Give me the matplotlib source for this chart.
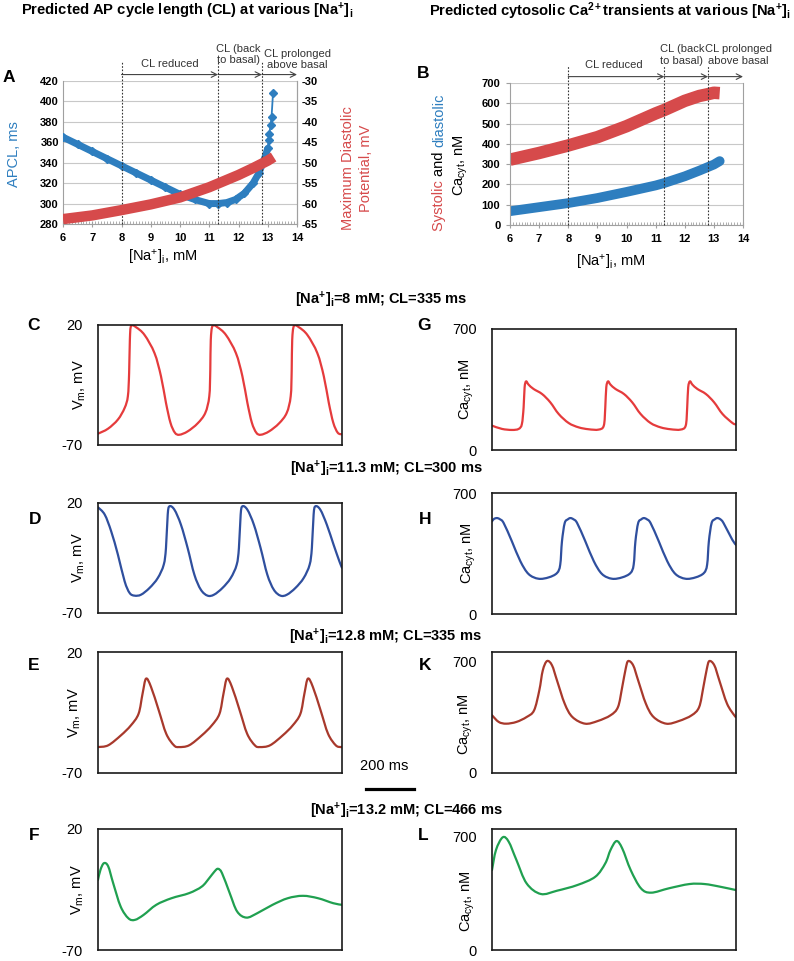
import matplotlib.pyplot as plt
from matplotlib.lines import Line2D
from matplotlib.patches import PathPatch
from matplotlib.path import Path
from matplotlib.ticker import MultipleLocator

plt.rcParams['font.family'] = ['Liberation Sans', 'DejaVu Sans']
plt.rcParams['mathtext.fontset'] = 'custom'
plt.rcParams['mathtext.rm'] = 'Liberation Sans'
plt.rcParams['mathtext.it'] = 'Liberation Sans:italic'
plt.rcParams['mathtext.bf'] = 'Liberation Sans:bold'
plt.rcParams['axes.unicode_minus'] = False

W, H = 794, 961

# ---- panel A: AP cycle length (left axis) and max diastolic potential (right axis)
na_apcl = [6.0, 6.5, 7.0, 7.5, 8.0, 8.5, 9.0, 9.5, 10.0, 10.5, 11.0, 11.3, 11.6, 11.9,
           12.2, 12.5, 12.7, 12.9, 13.0, 13.03, 13.05, 13.1, 13.13, 13.18]
apcl = [365, 358, 351, 344, 337, 330, 323, 316, 309, 304, 300, 300, 301, 304,
        310, 320, 330, 345, 354, 362, 368, 377, 385, 408]
na_mdp = [6.0, 7.0, 8.0, 9.0, 10.0, 11.0, 11.3, 12.0, 12.5, 13.0, 13.2]
mdp = [-63.8, -62.9, -61.6, -60.2, -58.5, -56.0, -55.1, -53.0, -51.3, -49.5, -48.6]

# ---- panel B: systolic / diastolic Ca
na_ca = [6.0, 7.0, 8.0, 9.0, 10.0, 11.0, 11.3, 12.0, 12.5, 12.8, 13.0, 13.2]
systolic = [322, 355, 392, 433, 487, 550, 567, 612, 636, 645, 652, 650]
diastolic = [68, 88, 108, 133, 163, 195, 207, 240, 268, 286, 298, 315]

na_marks = [8.0, 11.3, 12.8]
na_ticks = [6, 7, 8, 9, 10, 11, 12, 13, 14]

# ---- traces (time in ms)
t_c = [0, 40, 80, 107, 120, 125, 128, 133, 153, 187, 227, 253, 273, 291, 309, 327,
       360, 400, 431, 447, 451, 453, 460, 480, 514, 554, 580, 600, 618, 636, 654,
       687, 727, 758, 774, 778, 780, 787, 807, 841, 881, 907, 927, 945, 963, 980]
vm_c = [-61.5, -57.8, -50.9, -42.2, -33.4, -16, 8.8, 19.3, 18.3, 12.5, -1.1, -18.5, -38.4, -53.3, -60.8, -62.3,
        -59.8, -53.8, -45.9, -33.4, -13.6, 8.8, 19.3, 18.3, 12.5, -1.1, -18.5, -38.4, -53.3, -60.8, -62.3,
        -59.8, -53.8, -45.9, -33.4, -13.6, 8.8, 19.3, 18.3, 12.5, -1.1, -18.5, -38.4, -53.3, -60.8, -62.0]

t_g = [0, 40, 80, 107, 120, 127, 131, 137, 147, 167, 201, 234, 268, 308, 348, 388, 428,
       449, 455, 459, 466, 476, 496, 530, 563, 597, 637, 677, 717, 757,
       778, 784, 788, 795, 805, 825, 859, 892, 926, 966, 980]
ca_g = [141, 122, 116, 122, 150, 247, 363, 397, 378, 353, 324, 276, 208, 156, 131, 120, 118,
        141, 247, 363, 397, 378, 353, 324, 276, 208, 156, 131, 120, 118,
        141, 247, 363, 397, 378, 353, 324, 276, 208, 156, 148]

t_d = [0, 27, 53, 80, 107, 127, 147, 173, 207, 240, 264, 273, 280, 287,
       307, 333, 360, 387, 413, 440, 466, 500, 533, 557, 566, 573, 580,
       600, 626, 653, 680, 706, 733, 759, 793, 826, 850, 859, 866, 873,
       893, 919, 946, 970, 980]
vm_d = [16.5, 10.5, -3.2, -22.3, -44.1, -53.6, -55.8, -55, -49.5, -41.4, -30.5, -16.8, 10.5, 17.3,
        14.5, 2.3, -16.8, -38.6, -50.9, -55.8, -55, -49.5, -41.4, -30.5, -16.8, 10.5, 17.3,
        14.5, 2.3, -16.8, -38.6, -50.9, -55.8, -55, -49.5, -41.4, -30.5, -16.8, 10.5, 17.3,
        14.5, 2.3, -14, -28, -33]

t_h = [0, 8, 20, 32, 47, 80, 114, 147, 187, 228, 261, 274, 281, 292, 305, 315, 327,
       342, 375, 409, 442, 482, 523, 556, 569, 576, 587, 600, 610, 622,
       637, 670, 704, 737, 777, 818, 851, 864, 871, 882, 895, 905, 917,
       930, 965, 980]
ca_h = [536, 550, 555, 548, 526, 420, 305, 231, 204, 212, 237, 285, 420, 526, 548, 555, 548,
        526, 420, 305, 231, 204, 212, 237, 285, 420, 526, 548, 555, 548,
        526, 420, 305, 231, 204, 212, 237, 285, 420, 526, 548, 555, 548,
        526, 430, 400]

t_e = [0, 41, 92, 132, 163, 179, 193, 213, 244, 274, 305, 325, 366, 417, 457, 488, 504, 518,
       538, 569, 599, 630, 650, 691, 742, 782, 813, 829, 843, 863, 894, 924, 955, 975, 980]
vm_e = [-50.7, -49.4, -42, -34.6, -25.9, -11, 0.2, -6, -23.4, -40.8, -49.4, -50.7, -49.4, -42, -34.6, -25.9, -11, 0.2,
        -6, -23.4, -40.8, -49.4, -50.7, -49.4, -42, -34.6, -25.9, -11, 0.2, -6, -23.4, -40.8, -49.4, -50.7, -50.5]

t_k = [0, 27, 57, 98, 139, 169, 190, 204, 221, 241, 261, 292, 323, 374, 425, 476, 506, 523, 537, 547,
       567, 587, 618, 649, 700, 751, 802, 832, 849, 863, 873, 893, 913, 944, 975, 980]
ca_k = [364, 322, 311, 322, 353, 395, 521, 647, 706, 679, 584, 437, 353, 311, 328, 364, 416, 542, 658, 706,
        679, 584, 437, 353, 311, 328, 364, 416, 542, 658, 706, 679, 584, 437, 360, 357]

t_f = [0, 10, 24, 41, 61, 91, 122, 148, 183, 234, 295, 366, 417, 447, 468, 482, 498, 529, 559, 596,
       640, 701, 762, 823, 884, 945, 980]
vm_f = [-17.8, -10.3, -5.4, -7.8, -20.3, -37.7, -46.4, -47.6, -43.9, -36.4, -31.5, -27.7, -22.8, -16.5,
        -11.6, -9.6, -12.8, -27.7, -41.4, -45.9, -42.6, -36.4, -31.5, -29.7, -31.5, -35.2, -36.4]

t_l = [0, 16, 43, 67, 98, 139, 196, 261, 343, 415, 455, 476, 500, 523, 557, 598, 639, 711, 793, 854, 915, 980]
ca_l = [491, 614, 692, 665, 553, 409, 344, 364, 399, 450, 532, 614, 669, 624, 491, 379, 352, 379, 405, 405, 389, 368]

BLUE = '#2e7ebf'
RED = '#d64a4b'
GRID = '#c8c8c8'
SPINE = '#a0a0a0'
NA = r'[Na$^{+}$]$_{\rm i}$'
NA_B = r'[Na$^{\mathbf{+}}$]$_{\mathbf{i}}$'

fig = plt.figure(figsize=(W / 100, H / 100), dpi=100)


def box(l, t, r, b):
    return fig.add_axes([l / W, 1 - b / H, (r - l) / W, (b - t) / H])


def ftext(x, y, s, **kw):
    kw.setdefault('ha', 'center')
    kw.setdefault('va', 'center')
    return fig.text(x / W, 1 - y / H, s, **kw)


def smooth_line(ax, x, y, **kw):
    # smoothed line through the read points (like a spreadsheet "smoothed line")
    n = len(x)
    verts = [(x[0], y[0])]
    codes = [Path.MOVETO]
    for i in range(n - 1):
        a = max(i - 1, 0)
        d = min(i + 2, n - 1)
        c1 = (x[i] + (x[i + 1] - x[a]) / 6, y[i] + (y[i + 1] - y[a]) / 6)
        c2 = (x[i + 1] - (x[d] - x[i]) / 6, y[i + 1] - (y[d] - y[i]) / 6)
        verts += [c1, c2, (x[i + 1], y[i + 1])]
        codes += [Path.CURVE4] * 3
    ax.add_patch(PathPatch(Path(verts, codes), fill=False, capstyle='round', joinstyle='round', **kw))


def na_axis(ax):
    ax.set_xlim(6, 14)
    ax.set_xticks(na_ticks)
    ax.set_xticklabels([str(v) for v in na_ticks], fontweight='bold', fontsize=8)
    ax.xaxis.set_minor_locator(MultipleLocator(0.1))
    ax.tick_params(axis='x', which='minor', direction='in', length=2.5, color=SPINE)
    ax.tick_params(axis='x', which='major', direction='inout', length=5, color=SPINE, pad=4)
    ax.grid(axis='y', color=GRID, lw=0.8)
    ax.set_axisbelow(True)
    ax.spines['top'].set_visible(False)
    for s in ['left', 'bottom', 'right']:
        ax.spines[s].set_color(SPINE)
    tr = ax.get_xaxis_transform()
    for x in na_marks:
        ax.plot([x, x], [0, 1.13], transform=tr, color='#333333', lw=0.8,
                ls=(0, (1.5, 1.5)), clip_on=False, zorder=5)
    ends = na_marks + [14.0]
    for x0, x1 in zip(ends[:-1], ends[1:]):
        ax.annotate('', xy=(x1, 1.045), xytext=(x0, 1.045), xycoords=tr, textcoords=tr,
                    arrowprops=dict(arrowstyle='->', color='#444444', lw=0.8,
                                    shrinkA=0, shrinkB=0), annotation_clip=False)


# ---------------- panel A
ax = box(63, 81, 297, 224)
na_axis(ax)
ax.set_ylim(280, 420)
ax.set_yticks(range(280, 421, 20))
ax.set_yticklabels([str(v) for v in range(280, 421, 20)], fontweight='bold', fontsize=8)
ax.tick_params(axis='y', length=0, pad=3)
ax.plot(na_apcl[:19], apcl[:19], color=BLUE, lw=5, solid_capstyle='round', zorder=3)
ax.plot(na_apcl, apcl, color=BLUE, lw=1.3, marker='D', ms=4, zorder=3)
tr = ax.get_xaxis_transform()
ax.text(9.65, 1.12, 'CL reduced', transform=tr, ha='center', va='center', fontsize=8, color='#333333')
ax.text(12.0, 1.185, 'CL (back\nto basal)', transform=tr, ha='center', va='center', fontsize=8,
        color='#333333', linespacing=1.15)
ax.text(14.0, 1.15, 'CL prolonged\nabove basal', transform=tr, ha='center', va='center', fontsize=8,
        color='#333333', linespacing=1.15)

ax2 = ax.twinx()
ax2.set_ylim(-65, -30)
ax2.set_yticks(range(-65, -29, 5))
ax2.set_yticklabels([str(v) for v in range(-65, -29, 5)], fontweight='bold', fontsize=8)
ax2.tick_params(axis='y', length=0, pad=3)
for s in ['top', 'left', 'bottom']:
    ax2.spines[s].set_visible(False)
ax2.spines['right'].set_color(SPINE)
ax2.plot(na_mdp, mdp, color=RED, lw=7.5, solid_capstyle='butt')

ftext(187, 11, 'Predicted AP cycle length (CL) at various ' + NA_B, fontsize=10.6, fontweight='bold')
ftext(14, 154, 'APCL, ms', rotation=90, color=BLUE, fontsize=10.5)
ftext(357, 168, 'Maximum Diastolic\nPotential, mV', rotation=90, color=RED, fontsize=10.5,
      linespacing=1.4)
ftext(163, 257, NA + ', mM', fontsize=10.5)
ftext(9, 78, 'A', fontsize=12.5, fontweight='bold')

# ---------------- panel B
bx = box(510, 83, 743, 225)
na_axis(bx)
bx.set_ylim(0, 700)
bx.set_yticks(range(0, 701, 100))
bx.set_yticklabels([str(v) for v in range(0, 701, 100)], fontweight='bold', fontsize=8)
bx.tick_params(axis='y', length=3, color=SPINE, pad=4)
bx.plot(na_ca, systolic, color=RED, lw=9, solid_capstyle='butt')
bx.plot(na_ca, diastolic, color=BLUE, lw=7, solid_capstyle='round')
tr = bx.get_xaxis_transform()
bx.text(9.55, 1.127, 'CL reduced', transform=tr, ha='center', va='center', fontsize=8, color='#333333')
bx.text(11.9, 1.197, 'CL (back\nto basal)', transform=tr, ha='center', va='center', fontsize=8,
        color='#333333', linespacing=1.15)
bx.text(13.85, 1.197, 'CL prolonged\nabove basal', transform=tr, ha='center', va='center', fontsize=8,
        color='#333333', linespacing=1.15)

ftext(610, 11, r'Predicted cytosolic Ca$^{\mathbf{2+}}$transients at various ' + NA_B,
      fontsize=10.6, fontweight='bold')
ftext(611, 262, NA + ', mM', fontsize=10.5)
ftext(423, 74, 'B', fontsize=12.5, fontweight='bold')
ftext(461, 165, r'Ca$_{\rm cyt}$, nM', rotation=90, fontsize=10.5)

fig.canvas.draw()
rend = fig.canvas.get_renderer()
ybot = 1 - 231 / H
for word, col in [('Systolic ', RED), ('and ', 'black'), ('diastolic', BLUE)]:
    t = fig.text(439 / W, ybot, word, rotation=90, ha='center', va='bottom', color=col, fontsize=10.5)
    bb = t.get_window_extent(renderer=rend)
    ybot = bb.y1 / fig.bbox.height


# ---------------- voltage / calcium traces
def trace(l, t, r, b, tt, yy, color, ylim, yticks, ylabel, lab_x, lab_dy, letter, let_xy):
    a = box(l, t, r, b)
    smooth_line(a, tt, yy, edgecolor=color, lw=1.6)
    a.set_xlim(0, 980)
    a.set_ylim(*ylim)
    a.set_xticks([])
    a.set_yticks(yticks)
    a.set_yticklabels([str(v) for v in yticks], fontsize=10.5)
    a.tick_params(axis='y', length=0, pad=11)
    for s in a.spines.values():
        s.set_linewidth(1.2)
        s.set_color('#1a1a1a')
    ftext(lab_x, (t + b) / 2 + lab_dy, ylabel, rotation=90, fontsize=10.5)
    ftext(let_xy[0], let_xy[1], letter, fontsize=12.5, fontweight='bold')
    return a


VM = r'V$_{\rm m}$, mV'
CA = r'Ca$_{\rm cyt}$, nM'
C_RED = '#e53b3c'
C_BLUE = '#2f4f9e'
C_BROWN = '#a8392c'
C_GREEN = '#20a050'

trace(98, 325, 342, 445, t_c, vm_c, C_RED, (-70, 20), [-70, 20], VM, 80, 0, 'C', (34, 326))
trace(492, 329, 736, 450, t_g, ca_g, C_RED, (0, 700), [0, 700], CA, 467, 0, 'G', (424, 326))
trace(98, 503, 342, 613, t_d, vm_d, C_BLUE, (-70, 20), [-70, 20], VM, 79, 0, 'D', (35, 520))
trace(492, 493, 736, 614, t_h, ca_h, C_BLUE, (0, 700), [0, 700], CA, 469, 0, 'H', (425, 520))
trace(98, 652, 342, 773, t_e, vm_e, C_BROWN, (-70, 20), [-70, 20], VM, 75, 0, 'E', (34, 666))
trace(492, 652, 736, 773, t_k, ca_k, C_BROWN, (0, 763), [0, 700], CA, 466, 12, 'K', (425, 666))
trace(98, 829, 342, 950, t_f, vm_f, C_GREEN, (-70, 20), [-70, 20], VM, 78, 0, 'F', (34, 836))
trace(492, 829, 736, 950, t_l, ca_l, C_GREEN, (0, 743), [0, 700], CA, 468, 12, 'L', (423, 836))

ftext(381, 300, NA_B + '=8 mM; CL=335 ms', fontsize=10.5, fontweight='bold')
ftext(386, 469, NA_B + '=11.3 mM; CL=300 ms', fontsize=10.5, fontweight='bold')
ftext(385, 637, NA_B + '=12.8 mM; CL=335 ms', fontsize=10.5, fontweight='bold')
ftext(406, 811, NA_B + '=13.2 mM; CL=466 ms', fontsize=10.5, fontweight='bold')

# 200 ms scale bar
ftext(384, 766, '200 ms', fontsize=10.5)
fig.add_artist(Line2D([366 / W, 414 / W], [1 - 789 / H, 1 - 789 / H], transform=fig.transFigure,
                      color='black', lw=2.3))

fig.savefig('out.png', dpi=100)
